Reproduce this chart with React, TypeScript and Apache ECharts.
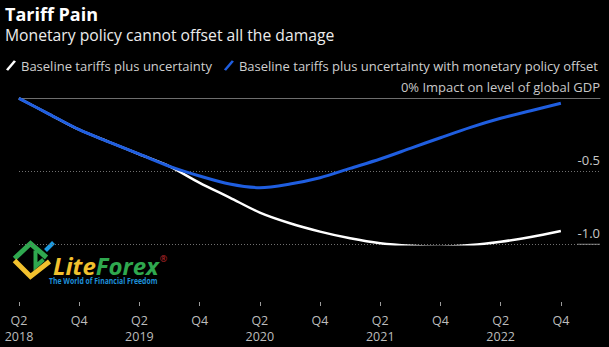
import React, { useEffect, useRef } from "react";
import * as echarts from "echarts";

const quarters = [
  "Q2 2018", "Q3 2018", "Q4 2018",
  "Q1 2019", "Q2 2019", "Q3 2019", "Q4 2019",
  "Q1 2020", "Q2 2020", "Q3 2020", "Q4 2020",
  "Q1 2021", "Q2 2021", "Q3 2021", "Q4 2021",
  "Q1 2022", "Q2 2022", "Q3 2022", "Q4 2022",
];
const baselineUncertainty = [
  0, -0.108, -0.215, -0.3, -0.383, -0.466, -0.579, -0.68, -0.783, -0.856,
  -0.913, -0.959, -0.993, -1.01, -1.016, -1.005, -0.982, -0.95, -0.909,
];
const withPolicyOffset = [
  0, -0.108, -0.215, -0.3, -0.383, -0.466, -0.532, -0.587, -0.612, -0.587,
  -0.544, -0.48, -0.416, -0.343, -0.27, -0.199, -0.137, -0.085, -0.034,
];
const seriesNames = [
  "Baseline tariffs plus uncertainty",
  "Baseline tariffs plus uncertainty with monetary policy offset",
];
const yTicks = [0, -0.5, -1.0];
const zeroLabel = "0% Impact on level of global GDP";
const title = "Tariff Pain";
const subtitle = "Monetary policy cannot offset all the damage";

const FONT = "'Open Sans', sans-serif";
const SLASH = "path://M0,9 L7.5,0 L9.5,1.2 L2,10.2 Z";

export default function App() {
  const ref = useRef<HTMLDivElement>(null);
  useEffect(() => {
    document.body.style.margin = "0";
    const chart = echarts.init(ref.current!, null, { renderer: "svg" });
    const last = quarters.length - 1;
    // the plotting area extends a little past the last quarter (room for the value labels)
    const xExtent = last + 1.3;
    const toPairs = (arr: number[]) => arr.map((v, i) => [i, v]);
    const gridTop = 98.3;
    const gridBottom = 347 - 244.3;
    const lineGridRight = 609 - 19 - (609 - 19 - 9) * (last / xExtent);
    const yMin = yTicks[yTicks.length - 1];
    const yMax = yTicks[0];
    chart.setOption({
      animation: false,
      backgroundColor: "#000",
      textStyle: { fontFamily: FONT },
      grid: [
        { left: 19, right: lineGridRight, top: gridTop, bottom: gridBottom },
        { left: 19, right: 9, top: gridTop, bottom: gridBottom },
        { left: 19, right: lineGridRight, top: 302, bottom: 347 - 306 },
      ],
      legend: {
        left: 1,
        top: 54,
        itemWidth: 10,
        itemHeight: 11,
        itemGap: 12,
        textStyle: { color: "#cfcfcf", fontSize: 13, fontFamily: FONT },
        data: [
          { name: seriesNames[0], icon: SLASH, itemStyle: { color: "#ffffff" } },
          { name: seriesNames[1], icon: SLASH, itemStyle: { color: "#1f5ee0" } },
        ],
      },
      xAxis: [
        { type: "value", gridIndex: 0, min: 0, max: last, show: false },
        {
          type: "value",
          gridIndex: 1,
          min: 0,
          max: xExtent,
          position: "top",
          axisLine: { show: true, lineStyle: { color: "#6e6e6e", width: 1 } },
          axisTick: { show: false },
          axisLabel: { show: false },
          splitLine: { show: false },
        },
        {
          type: "value",
          gridIndex: 2,
          min: 0,
          max: last,
          interval: 2,
          axisLine: { show: false },
          axisTick: { show: false },
          splitLine: { show: true, lineStyle: { color: "#9a9a9a", width: 1, type: "solid" } },
          axisLabel: {
            color: "#bdbdbd",
            fontSize: 12.5,
            lineHeight: 16.5,
            margin: 6,
            formatter: (v: number) => {
              const q = quarters[Math.round(v)];
              if (!q) return "";
              const [qq, yy] = q.split(" ");
              return qq === "Q2" ? `${qq}\n${yy}` : qq;
            },
          },
        },
      ],
      yAxis: [
        { type: "value", gridIndex: 0, min: yMin, max: yMax, show: false },
        {
          type: "value",
          gridIndex: 1,
          position: "right",
          min: yMin,
          max: yMax,
          interval: 0.5,
          axisLine: { show: false },
          axisTick: { show: false },
          splitLine: { lineStyle: { color: "#707070", type: [1, 2] } },
          axisLabel: {
            inside: true,
            margin: 0,
            color: "#c8c8c8",
            fontSize: 13,
            verticalAlign: "bottom",
            padding: [0, 0, 5, 0],
            formatter: (v: number) =>
              Math.abs(v) < 1e-9 ? zeroLabel : yTicks.includes(v) ? v.toFixed(1) : "",
          },
        },
        { type: "value", gridIndex: 2, min: 0, max: 1, show: false },
      ],
      series: [
        {
          name: "label underline",
          type: "line",
          xAxisIndex: 1,
          yAxisIndex: 1,
          data: [
            [last + 0.54, yMin],
            [xExtent, yMin],
          ],
          silent: true,
          showSymbol: false,
          lineStyle: { color: "#a0a0a0", width: 1 },
          z: 1,
        },
        {
          name: seriesNames[0],
          type: "line",
          xAxisIndex: 0,
          yAxisIndex: 0,
          data: toPairs(baselineUncertainty),
          showSymbol: false,
          smooth: 0.3,
          lineStyle: { color: "#ffffff", width: 2.5 },
          itemStyle: { color: "#ffffff" },
          z: 3,
        },
        {
          name: seriesNames[1],
          type: "line",
          xAxisIndex: 0,
          yAxisIndex: 0,
          data: toPairs(withPolicyOffset),
          showSymbol: false,
          smooth: 0.3,
          lineStyle: { color: "#1f5ee0", width: 3 },
          itemStyle: { color: "#1f5ee0" },
          z: 4,
        },
      ],
      graphic: [
        {
          type: "text",
          left: 5,
          top: 5,
          style: { text: title, fill: "#ffffff", font: `bold 18px ${FONT}` },
        },
        {
          type: "text",
          left: 5,
          top: 27,
          style: { text: subtitle, fill: "#ececec", font: `15.7px ${FONT}` },
        },
        {
          type: "group",
          left: 12,
          top: 240,
          children: [
            { type: "polyline", shape: { points: [[4, 19], [20, 4], [36, 18]] }, style: { stroke: "#2fa84f", lineWidth: 5, fill: "none", lineJoin: "miter" } },
            { type: "polyline", shape: { points: [[25, 11], [25, 27], [33, 20]] }, style: { stroke: "#2fa84f", lineWidth: 4, fill: "none" } },
            { type: "polyline", shape: { points: [[4, 21], [20, 37], [39, 22]] }, style: { stroke: "#f2c12e", lineWidth: 5, fill: "none", lineJoin: "miter" } },
            { type: "line", shape: { x1: 35, y1: 11, x2: 43, y2: 3 }, style: { stroke: "#1e9be0", lineWidth: 4 } },
          ],
        },
        {
          type: "text",
          left: 53,
          top: 253,
          style: {
            text: "{a|Lite}{b|Forex}{r|®}",
            rich: {
              a: { fill: "#f2c12e", font: `italic bold 24px ${FONT}`, lineHeight: 22 },
              b: { fill: "#2fa84f", font: `italic bold 24px ${FONT}`, lineHeight: 22 },
              r: { fill: "#c0282d", font: `9px ${FONT}`, lineHeight: 22, verticalAlign: "top", padding: [0, 0, 12, 1] },
            },
          },
        },
        {
          type: "text",
          left: 49,
          top: 276,
          scaleX: 0.86,
          style: { text: "The World of Financial Freedom", fill: "#1e8fd8", font: `bold 8px ${FONT}`, lineHeight: 9 },
        },
      ],
    });
    return () => chart.dispose();
  }, []);
  return (
    <div
      ref={ref}
      style={{ width: 609, height: 347, position: "fixed", left: 0, top: 0, background: "#000" }}
    />
  );
}
